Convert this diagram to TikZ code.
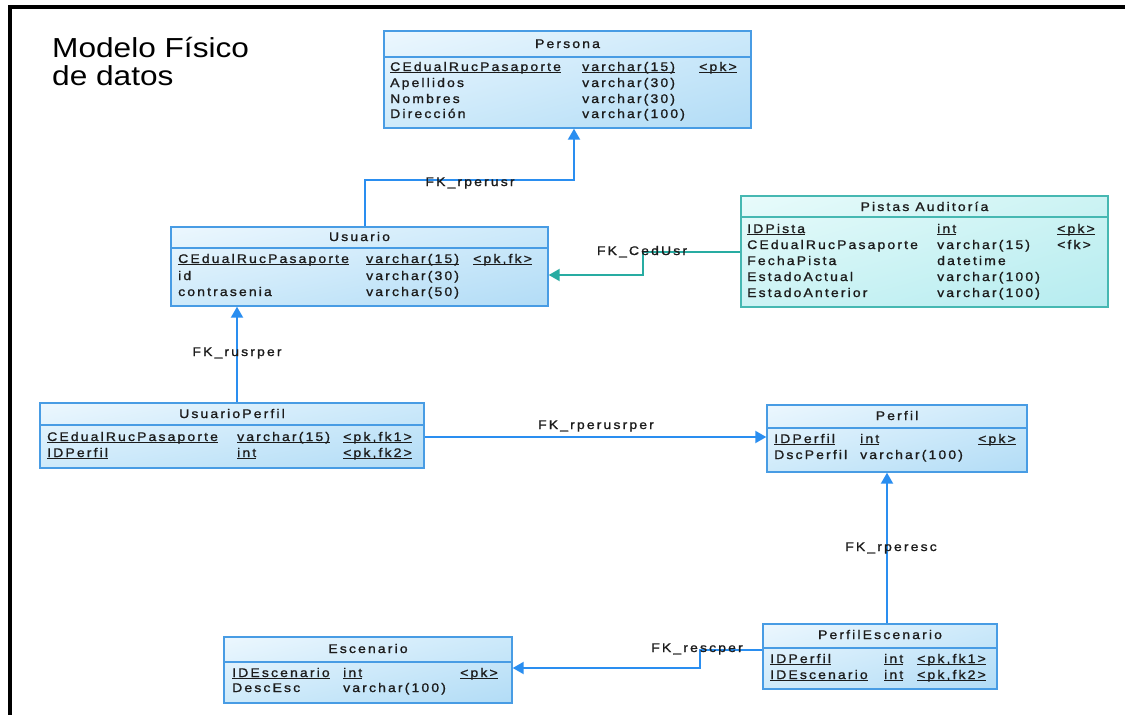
\documentclass[tikz,border=0pt]{standalone}
\usepackage{fontspec}
\setmainfont{Liberation Sans}[FakeStretch=1.15]
\newfontfamily\tblfont{Liberation Sans}[FakeStretch=1.12,LetterSpace=17,FakeBold=1.2]
\usetikzlibrary{arrows.meta,shadings}

\definecolor{tblblue}{RGB}{72,156,228}
\definecolor{lnblue}{RGB}{42,142,240}
\definecolor{tealbox}{RGB}{70,184,178}
\definecolor{tealln}{RGB}{40,172,162}
\definecolor{txt}{RGB}{28,28,28}
\definecolor{bUL}{RGB}{236,247,254}
\definecolor{bUR}{RGB}{204,233,250}
\definecolor{bLL}{RGB}{206,234,250}
\definecolor{bLR}{RGB}{178,220,246}
\definecolor{tUL}{RGB}{232,251,251}
\definecolor{tUR}{RGB}{204,243,243}
\definecolor{tLL}{RGB}{204,243,244}
\definecolor{tLR}{RGB}{182,236,240}

% key columns: text with a rule just under the baseline
\newcommand\keyul[1]{\setbox0=\hbox{#1}\rlap{\rule[-2.2pt]{\wd0}{1pt}}\box0}
% one field of a table
\newcommand\cellat[4]{\node[cell] (#1) at (#2,#3) {#4};}

\begin{document}
\begin{tikzpicture}[x=1pt,y=-1pt,
  tbl/.style={rectangle, draw=tblblue, line width=1.4pt, inner sep=0pt,
    upper left=bUL, upper right=bUR, lower left=bLL, lower right=bLR},
  tblteal/.style={tbl, draw=tealbox,
    upper left=tUL, upper right=tUR, lower left=tLL, lower right=tLR},
  sepline/.style={draw=tblblue, line width=1.1pt},
  septeal/.style={draw=tealbox, line width=1.1pt},
  cell/.style={anchor=base west, inner sep=0pt, text=txt,
    font=\tblfont\fontsize{12.5}{14}\selectfont},
  head/.style={cell, anchor=base},
  lbl/.style={cell, anchor=base},
  fk/.style={draw=lnblue, line width=2pt, -{Triangle[length=11pt,width=12pt]}},
  fkteal/.style={fk, draw=tealln},
  ttl/.style={anchor=base west, inner sep=0pt, text=black,
    font=\fontsize{27.5}{30}\selectfont}
]
\useasboundingbox (0,0) rectangle (1125,715);
\fill[white] (0,0) rectangle (1125,715);

% frame
\draw[line width=3.5pt, black, line join=miter] (10,715) -- (10,7) -- (1125,7);

% title
\node[ttl] (t1) at (52,57) {Modelo Físico};
\node[ttl] (t2) at (52,85) {de datos};

% ---------- tables ----------
% Persona
\node[tbl, minimum width=367pt, minimum height=97pt] (pe) at (567.5,79.5) {};
\draw[sepline] (pe.west |- 0,57) -- (pe.east |- 0,57);
\node[head] (peh) at (567.5,48) {Persona};
\cellat{pe11}{390}{71}{\keyul{CEdualRucPasaporte}}
\cellat{pe12}{582}{71}{\keyul{varchar(15)}}
\cellat{pe13}{699}{71}{\keyul{<pk>}}
\cellat{pe21}{390}{87}{Apellidos}
\cellat{pe22}{582}{87}{varchar(30)}
\cellat{pe31}{390}{103}{Nombres}
\cellat{pe32}{582}{103}{varchar(30)}
\cellat{pe41}{390}{118}{Dirección}
\cellat{pe42}{582}{118}{varchar(100)}

% Usuario
\node[tbl, minimum width=377pt, minimum height=79pt] (us) at (359.5,266.5) {};
\draw[sepline] (us.west |- 0,248) -- (us.east |- 0,248);
\node[head] (ush) at (359.5,241) {Usuario};
\cellat{us11}{178}{263}{\keyul{CEdualRucPasaporte}}
\cellat{us12}{366}{263}{\keyul{varchar(15)}}
\cellat{us13}{473}{263}{\keyul{<pk,fk>}}
\cellat{us21}{178}{280}{id}
\cellat{us22}{366}{280}{varchar(30)}
\cellat{us31}{178}{296}{contrasenia}
\cellat{us32}{366}{296}{varchar(50)}

% Pistas Auditoria
\node[tblteal, minimum width=367pt, minimum height=111pt] (pa) at (924.5,251.5) {};
\draw[septeal] (pa.west |- 0,217) -- (pa.east |- 0,217);
\node[head] (pah) at (924.5,211) {Pistas Auditoría};
\cellat{pa11}{747}{233}{\keyul{IDPista}}
\cellat{pa12}{937}{233}{\keyul{int}}
\cellat{pa13}{1057}{233}{\keyul{<pk>}}
\cellat{pa21}{747}{249}{CEdualRucPasaporte}
\cellat{pa22}{937}{249}{varchar(15)}
\cellat{pa23}{1057}{249}{<fk>}
\cellat{pa31}{747}{265}{FechaPista}
\cellat{pa32}{937}{265}{datetime}
\cellat{pa41}{747}{281}{EstadoActual}
\cellat{pa42}{937}{281}{varchar(100)}
\cellat{pa51}{747}{297}{EstadoAnterior}
\cellat{pa52}{937}{297}{varchar(100)}

% UsuarioPerfil
\node[tbl, minimum width=384pt, minimum height=65pt] (up) at (232,435.5) {};
\draw[sepline] (up.west |- 0,425) -- (up.east |- 0,425);
\node[head] (uph) at (232,418) {UsuarioPerfil};
\cellat{up11}{47}{441}{\keyul{CEdualRucPasaporte}}
\cellat{up12}{237}{441}{\keyul{varchar(15)}}
\cellat{up13}{343}{441}{\keyul{<pk,fk1>}}
\cellat{up21}{47}{457}{\keyul{IDPerfil}}
\cellat{up22}{237}{457}{\keyul{int}}
\cellat{up23}{343}{457}{\keyul{<pk,fk2>}}

% Perfil
\node[tbl, minimum width=260pt, minimum height=67pt] (pf) at (897,438.5) {};
\draw[sepline] (pf.west |- 0,428) -- (pf.east |- 0,428);
\node[head] (pfh) at (897,420) {Perfil};
\cellat{pf11}{774}{443}{\keyul{IDPerfil}}
\cellat{pf12}{860}{443}{\keyul{int}}
\cellat{pf13}{978}{443}{\keyul{<pk>}}
\cellat{pf21}{774}{459}{DscPerfil}
\cellat{pf22}{860}{459}{varchar(100)}

% Escenario
\node[tbl, minimum width=288pt, minimum height=66pt] (es) at (368,670) {};
\draw[sepline] (es.west |- 0,662) -- (es.east |- 0,662);
\node[head] (esh) at (368,653) {Escenario};
\cellat{es11}{232}{677}{\keyul{IDEscenario}}
\cellat{es12}{343}{677}{\keyul{int}}
\cellat{es13}{460}{677}{\keyul{<pk>}}
\cellat{es21}{232}{692}{DescEsc}
\cellat{es22}{343}{692}{varchar(100)}

% PerfilEscenario
\node[tbl, minimum width=234pt, minimum height=65pt] (ps) at (880,656.5) {};
\draw[sepline] (ps.west |- 0,648) -- (ps.east |- 0,648);
\node[head] (psh) at (880,639) {PerfilEscenario};
\cellat{ps11}{770}{663}{\keyul{IDPerfil}}
\cellat{ps12}{884}{663}{\keyul{int}}
\cellat{ps13}{917}{663}{\keyul{<pk,fk1>}}
\cellat{ps21}{770}{679}{\keyul{IDEscenario}}
\cellat{ps22}{884}{679}{\keyul{int}}
\cellat{ps23}{917}{679}{\keyul{<pk,fk2>}}

% ---------- references ----------
\coordinate (j1a) at (365,180);
\coordinate (j1) at (574,180);
\draw[fk] (j1a |- us.north) -- (j1a) -- (j1) -- (j1 |- pe.south);

\coordinate (j2) at (643,275);
\draw[fkteal] (pa.west) -| (j2) -- (j2 -| us.east);

\coordinate (c3) at (237,352);
\draw[fk] (c3 |- up.north) -- (c3 |- us.south);

\coordinate (c4) at (600,437);
\draw[fk] (c4 -| up.east) -- (c4 -| pf.west);

\coordinate (c5) at (887,550);
\draw[fk] (c5 |- ps.north) -- (c5 |- pf.south);

\coordinate (c6a) at (740,650);
\coordinate (c6) at (700,668);
\draw[fk] (c6a -| ps.west) -| (c6) -- (c6 -| es.east);

% reference names
\node[lbl] (l1) at (470,186) {FK\_rperusr};
\node[lbl] (l2) at (642,255) {FK\_CedUsr};
\node[lbl] (l3) at (237,356) {FK\_rusrper};
\node[lbl] (l4) at (596,429) {FK\_rperusrper};
\node[lbl] (l5) at (891,551) {FK\_rperesc};
\node[lbl] (l6) at (697,652) {FK\_rescper};
\end{tikzpicture}
\end{document}
